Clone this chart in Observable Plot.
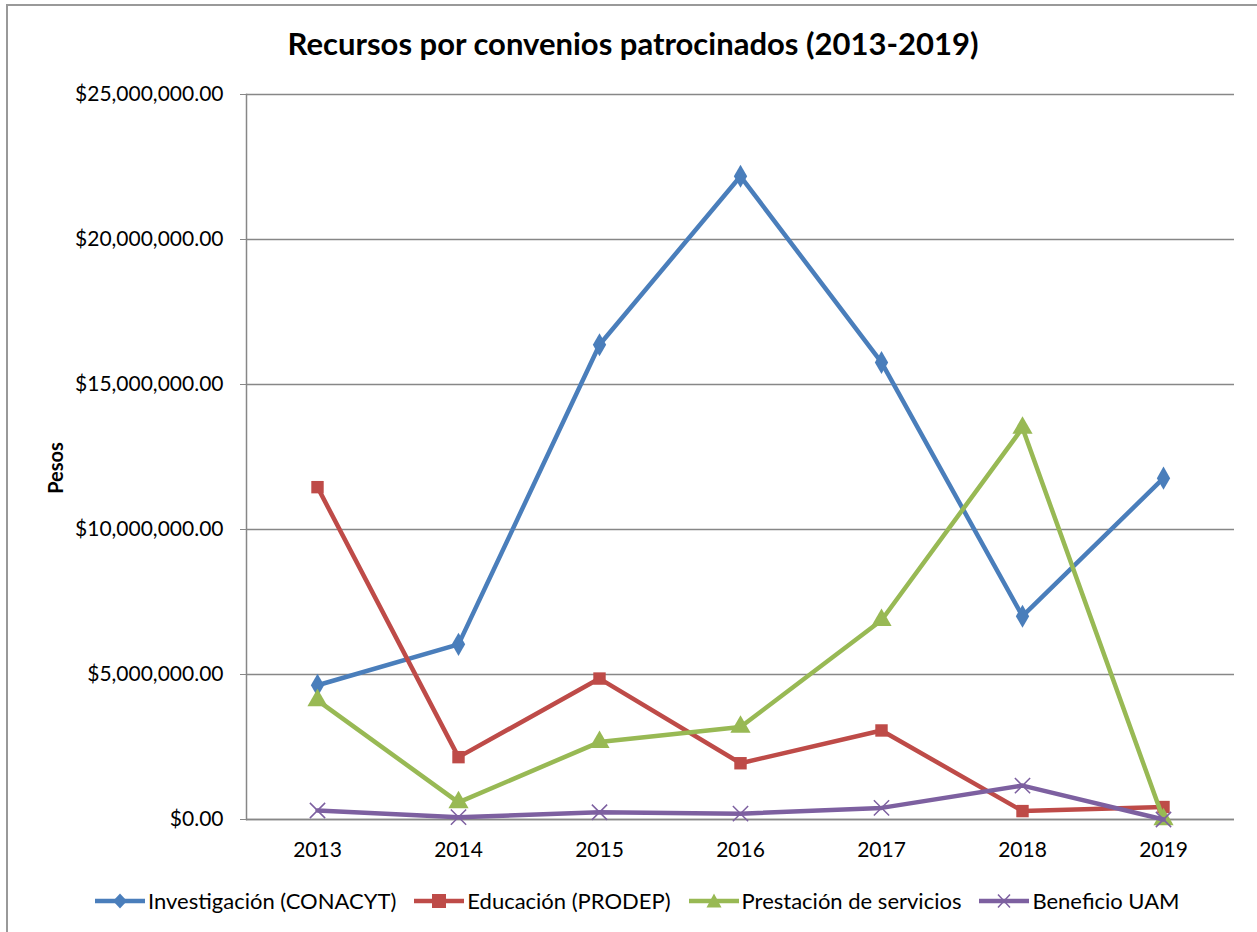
<!DOCTYPE html>
<html>
<head>
<meta charset="utf-8">
<script src="https://cdn.jsdelivr.net/npm/d3@7"></script>
<script src="https://cdn.jsdelivr.net/npm/@observablehq/plot@0.6"></script>
<style>
  html, body { margin: 0; padding: 0; background: #fff; }
  #wrap { position: relative; width: 1257px; height: 932px; overflow: hidden; font-family: Lato, sans-serif; }
  #border { position: absolute; left: 6px; top: 4px; width: 1300px; height: 1000px; border-left: 2px solid #999; border-top: 2px solid #999; }
  #title { position: absolute; left: 0; width: 1266px; top: 24px; text-align: center; font-weight: bold; font-size: 31px; color: #000; }
  #ylabel { position: absolute; left: 55px; top: 468px; transform: translate(-50%, -50%) rotate(-90deg); font-weight: bold; font-size: 20px; white-space: nowrap; }
  #legend { position: absolute; top: 887px; left: 95px; display: flex; align-items: center; font-size: 22px; white-space: nowrap; }
  .item { display: flex; align-items: center; margin-right: 18px; }
  .item svg { margin-right: 3px; }
  #chart { position: absolute; left: 0; top: 0; }
</style>
</head>
<body>
<div id="wrap">
  <div id="border"></div>
  <div id="chart"></div>
  <div id="title">Recursos por convenios patrocinados (2013-2019)</div>
  <div id="ylabel">Pesos</div>
  <div id="legend"></div>
</div>
<script>
const years = [2013, 2014, 2015, 2016, 2017, 2018, 2019];
const seriesNames = ["Investigación (CONACYT)", "Educación (PRODEP)", "Prestación de servicios", "Beneficio UAM"];
const investigacion = [4630000, 6040000, 16370000, 22180000, 15760000, 7010000, 11770000];
const educacion = [11460000, 2150000, 4860000, 1940000, 3070000, 290000, 430000];
const prestacion = [4110000, 590000, 2670000, 3190000, 6870000, 13500000, 0];
const beneficio = [310000, 80000, 250000, 200000, 400000, 1170000, 0];
const yTicks = [0, 5000000, 10000000, 15000000, 20000000, 25000000];

const colors = ["#4a7ebb", "#be4b48", "#98b954", "#7d60a0"];
const symbols = ["diamond", "square", "triangle", "times"];
const sizes = [7, 7, 7.5, 7];
const values = [investigacion, educacion, prestacion, beneficio];

const data = [];
seriesNames.forEach((s, i) => {
  years.forEach((y, j) => data.push({series: s, year: String(y), value: values[i][j], idx: i}));
});

const marks = [
  Plot.gridY(yTicks, {stroke: "#878787", strokeOpacity: 1, strokeWidth: 1.5}),
  Plot.ruleY([0], {stroke: "#878787", strokeWidth: 1.5}),
  Plot.frame({anchor: "left", stroke: "#878787", strokeWidth: 1.5}),
  Plot.axisY(yTicks, {tickSize: 6, tickPadding: 17, tickFormat: d3.format("$,.2f"), stroke: "#878787", label: null, fontSize: 21}),
  Plot.axisX({tickSize: 0, tickPadding: 23, label: null, fontSize: 21})
];
seriesNames.forEach((s, i) => {
  const d = data.filter(e => e.idx === i);
  marks.push(Plot.line(d, {x: "year", y: "value", stroke: colors[i], strokeWidth: 4.5}));
  if (symbols[i] === "times") {
    marks.push(Plot.dot(d, {x: "year", y: "value", symbol: "times", stroke: colors[i], strokeWidth: 1.5, r: sizes[i]}));
  } else {
    marks.push(Plot.dot(d, {x: "year", y: "value", symbol: symbols[i], fill: colors[i], stroke: "none", r: sizes[i]}));
  }
});

const chart = Plot.plot({
  width: 1257,
  height: 932,
  marginLeft: 246,
  marginRight: 23,
  marginTop: 94,
  marginBottom: 113,
  style: {fontFamily: "Lato, sans-serif", fontSize: "21px", color: "#000", background: "transparent", overflow: "visible"},
  x: {type: "point", domain: years.map(String), padding: 0.5},
  y: {domain: [0, 25000000]},
  marks
});
document.getElementById("chart").appendChild(chart);

// legend
const legend = document.getElementById("legend");
const symPaths = {
  diamond: '<path d="M25 1.5 L32 9 L25 16.5 L18 9 Z" fill="COL"/>',
  square: '<rect x="18" y="2" width="14" height="14" fill="COL"/>',
  triangle: '<path d="M25 1.5 L32.5 15.5 L17.5 15.5 Z" fill="COL"/>',
  times: '<path d="M19 2.5 L31 15.5 M31 2.5 L19 15.5" stroke="COL" stroke-width="1.5"/>'
};
seriesNames.forEach((s, i) => {
  const it = document.createElement("div");
  it.className = "item";
  it.innerHTML = `<svg width="50" height="18"><line x1="0" x2="50" y1="9" y2="9" stroke="${colors[i]}" stroke-width="4.5"/>${symPaths[symbols[i]].replace(/COL/g, colors[i])}</svg><span>${s}</span>`;
  legend.appendChild(it);
});
</script>
</body>
</html>
